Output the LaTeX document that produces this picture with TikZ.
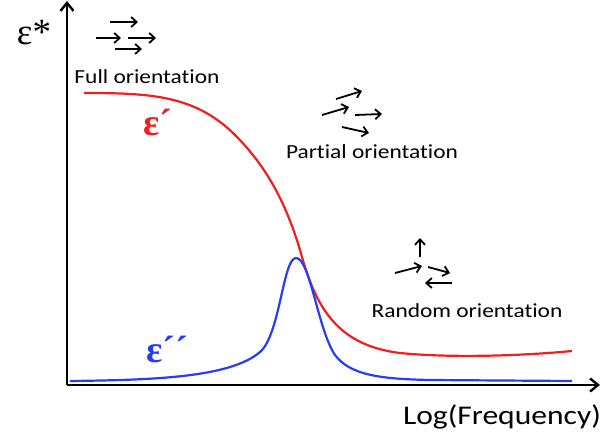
\documentclass[tikz,border=0pt]{standalone}
\usepackage{fontspec}
\setmainfont{Carlito}[FakeStretch=1.17,RawFeature=-liga]
\newfontfamily\epsfont{Liberation Serif}
\usetikzlibrary{arrows.meta}
\begin{document}
\begin{tikzpicture}[x=1pt,y=-1pt,
  axis/.style={line width=2.4pt,-{Straight Barb[length=8pt,width=13pt]}},
  orient/.style={line width=1.8pt,-{Straight Barb[length=5.5pt,width=10pt]}},
  lbl/.style={font=\fontsize{20}{24}\selectfont},
  eps/.style={font=\epsfont\fontsize{38}{42}\selectfont\bfseries}]
\useasboundingbox (0,0) rectangle (600,441);
% axes
\coordinate (O) at (67,385);
\coordinate (ytop) at (67,1);
\coordinate (xend) at (600,385);
\draw[axis] (O) -- (ytop);
\draw[axis] (O) -- (xend);
% labels
\node[font=\epsfont\fontsize{37}{40}\selectfont] (ys) at (34,33) {ε*};
\node[font=\fontsize{27}{32}\selectfont] (xl) at (502,417) {Log(Frequency)};
\node[lbl] (full) at (147,77) {Full orientation};
\node[lbl] (part) at (372,152) {Partial orientation};
\node[lbl] (rand) at (467,311) {Random orientation};
\node[eps,text={rgb,255:red,240;green,30;blue,30}] (e1) at (158,122) {ε´};
\node[eps,text={rgb,255:red,40;green,60;blue,245}] (e2) at (167,349) {ε´´};
% curves
\draw[line width=2.2pt,color={rgb,255:red,240;green,30;blue,30}]
  (84,93) .. controls (150,93) and (195,95) .. (235,135)
  .. controls (265,165) and (285,200) .. (300,250)
  .. controls (315,305) and (335,345) .. (400,353)
  .. controls (450,358) and (520,356) .. (572,351);
\draw[line width=2.2pt,color={rgb,255:red,40;green,60;blue,245}]
  (70,381) .. controls (150,380) and (230,378) .. (260,352)
  .. controls (280,335) and (283,258) .. (296,258)
  .. controls (310,258) and (318,330) .. (335,355)
  .. controls (350,375) and (380,379) .. (430,380)
  -- (572,381);
% full orientation arrows
\coordinate (f1a) at (110,22); \coordinate (f1b) at (138,22);
\coordinate (f2a) at (96,38); \coordinate (f2b) at (121,38);
\coordinate (f3a) at (128,38); \coordinate (f3b) at (156,38);
\coordinate (f4a) at (115,49); \coordinate (f4b) at (142,49);
\draw[orient] (f1a) -- (f1b);
\draw[orient] (f2a) -- (f2b);
\draw[orient] (f3a) -- (f3b);
\draw[orient] (f4a) -- (f4b);
% partial orientation arrows
\coordinate (p1a) at (336,99); \coordinate (p1b) at (362,91);
\coordinate (p2a) at (322,115); \coordinate (p2b) at (349,107);
\coordinate (p3a) at (355,115); \coordinate (p3b) at (382,114);
\coordinate (p4a) at (342,127); \coordinate (p4b) at (369,133);
\draw[orient] (p1a) -- (p1b);
\draw[orient] (p2a) -- (p2b);
\draw[orient] (p3a) -- (p3b);
\draw[orient] (p4a) -- (p4b);
% random orientation arrows
\coordinate (r1a) at (420,257); \coordinate (r1b) at (420,238);
\coordinate (r2a) at (395,273); \coordinate (r2b) at (422,266);
\coordinate (r3a) at (428,267); \coordinate (r3b) at (450,273);
\coordinate (r4a) at (452,283); \coordinate (r4b) at (425,283);
\draw[orient] (r1a) -- (r1b);
\draw[orient] (r2a) -- (r2b);
\draw[orient] (r3a) -- (r3b);
\draw[orient] (r4a) -- (r4b);
\end{tikzpicture}
\end{document}
